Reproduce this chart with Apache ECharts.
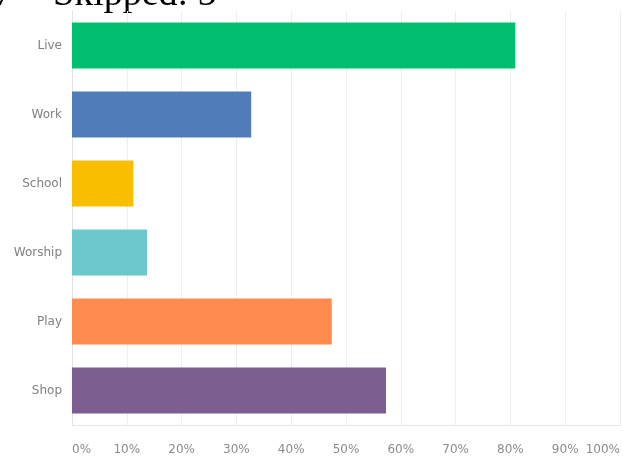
<!DOCTYPE html>
<html>
<head>
<meta charset="utf-8">
<title>Live, Work, School, Worship, Play, Shop</title>
<script src="https://cdn.jsdelivr.net/npm/echarts@6/dist/echarts.min.js"></script>
<style>
  html, body { margin: 0; padding: 0; background: #ffffff; }
  #chart { width: 623px; height: 456px; }
</style>
</head>
<body>
<div id="chart"></div>
<script>
// Answer choices, top to bottom
const categories = ['Live', 'Work', 'School', 'Worship', 'Play', 'Shop'];
// Share of respondents choosing each answer (%)
const percentValues = [80.9, 32.7, 11.2, 13.7, 47.4, 57.3];
// One colour per answer choice
const barColors = ['#00bf6f', '#507cba', '#f9be00', '#6bc8cd', '#ff8b4f', '#7d5e90'];
// Percent axis ticks
const tickValues = [0, 10, 20, 30, 40, 50, 60, 70, 80, 90, 100];
const tickLabels = tickValues.map(v => v + '%');

const chart = echarts.init(document.getElementById('chart'), null, { renderer: 'canvas' });

chart.setOption({
  animation: false,
  backgroundColor: '#ffffff',
  grid: { left: 72, right: 1, top: 11, bottom: 31, containLabel: false },
  xAxis: {
    type: 'value',
    min: tickValues[0],
    max: tickValues[tickValues.length - 1],
    interval: 10,
    axisLine: { show: true, lineStyle: { color: '#e6e6e6', width: 1 } },
    axisTick: { show: false },
    splitLine: { show: true, lineStyle: { color: '#eeeeee', width: 1 } },
    axisLabel: {
      margin: 19,
      fontFamily: 'DejaVu Sans',
      fontSize: 12,
      color: '#8c8c8c',
      alignMinLabel: 'left',
      alignMaxLabel: 'right',
      formatter: v => tickLabels[tickValues.indexOf(v)]
    }
  },
  yAxis: {
    type: 'category',
    data: categories,
    inverse: true,
    axisLine: { show: true, lineStyle: { color: '#e3e3e3', width: 1 } },
    axisTick: { show: false },
    splitLine: { show: false },
    axisLabel: {
      margin: 10,
      fontFamily: 'DejaVu Sans',
      fontSize: 12,
      color: '#808080'
    }
  },
  series: [{
    type: 'bar',
    barWidth: 46,
    data: percentValues.map((v, i) => ({ value: v, itemStyle: { color: barColors[i] } })),
    label: { show: false }
  }],
  graphic: [
    {
      type: 'text',
      x: -6,
      y: -5,
      style: {
        text: '7',
        font: '38px "Liberation Serif"',
        fill: '#000000',
        verticalAlign: 'middle',
        align: 'left'
      }
    },
    {
      type: 'text',
      x: 53,
      y: -5,
      style: {
        text: 'Skipped: 5',
        font: '38px "Liberation Serif"',
        fill: '#000000',
        verticalAlign: 'middle',
        align: 'left'
      }
    }
  ]
});
</script>
</body>
</html>
